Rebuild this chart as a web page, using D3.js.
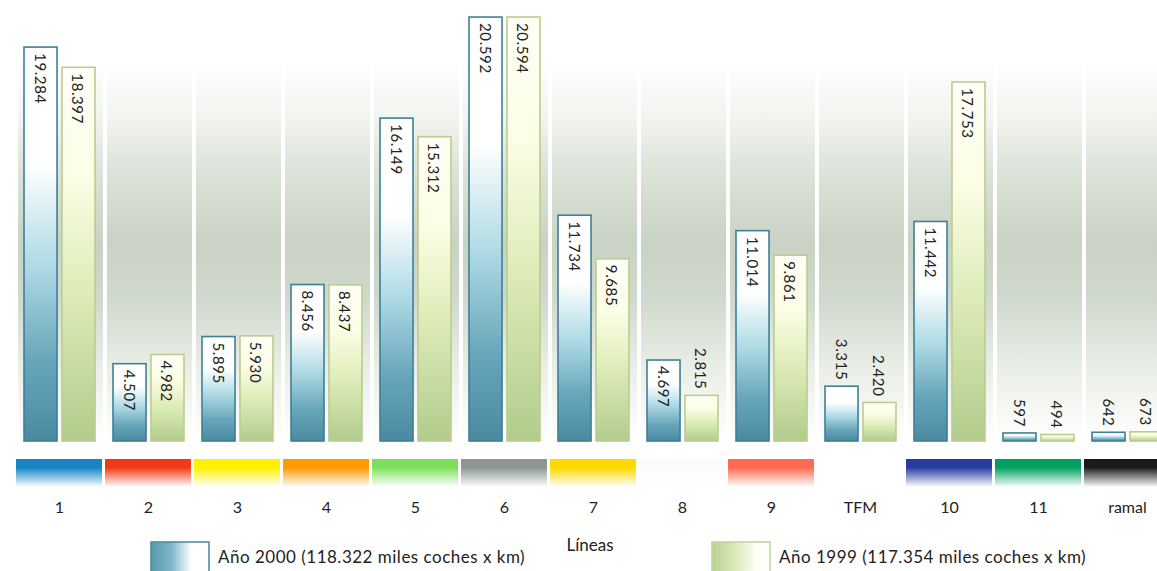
<!DOCTYPE html>
<html>
<head>
<meta charset="utf-8">
<script src="https://cdn.jsdelivr.net/npm/d3@7"></script>
<style>
  html, body { margin: 0; padding: 0; background: #ffffff; }
  svg { display: block; }
  text { font-family: Lato, "Open Sans", sans-serif; fill: #222222; }
</style>
</head>
<body>
<svg id="chart" width="1157" height="571"></svg>
<script>
// Metro lines, car-km (thousands) per line
const lines = ["1", "2", "3", "4", "5", "6", "7", "8", "9", "TFM", "10", "11", "ramal"];
const year2000 = [19284, 4507, 5895, 8456, 16149, 20592, 11734, 4697, 11014, 3315, 11442, 597, 642];
const year1999 = [18397, 4982, 5930, 8437, 15312, 20594, 9685, 2815, 9861, 2420, 17753, 494, 673];
const lineColors = ["#1784c6", "#f03a16", "#fff000", "#ff9a00", "#7ee05a", "#8d9692",
                    "#ffd800", "#fbfbfb", "#ff6b52", "#ffffff", "#263c9e", "#00a05e", "#1b1b1b"];
const seriesKeys = ["2000", "1999"];
const legendLabels = ["Año 2000 (118.322 miles coches x km)", "Año 1999 (117.354 miles coches x km)"];

const W = 1157, H = 571;
const baseY = 441;
const svg = d3.select("#chart");
const defs = svg.append("defs");

const fmt = d3.formatLocale({ decimal: ",", thousands: ".", grouping: [3], currency: ["", ""] }).format(",d");

const x0 = d3.scaleBand().domain(lines).range([15, 15 + 89 * lines.length]).paddingInner(0).paddingOuter(0);
const x1 = d3.scaleBand().domain(seriesKeys).range([9, 80]).paddingInner(0.13);
const y = d3.scalePow().exponent(1.12).domain([0, d3.max(year2000.concat(year1999))]).range([baseY, 17]);

// background haze behind each line's column
const haze = defs.append("linearGradient").attr("id", "haze")
  .attr("gradientUnits", "userSpaceOnUse").attr("x1", 0).attr("x2", 0).attr("y1", 60).attr("y2", 440);
[[0, "#ffffff"], [0.14, "#f3f5f1"], [0.3, "#dbe2d7"], [0.48, "#c9d3c5"], [0.62, "#cfd8cc"], [0.8, "#e8ede5"], [1, "#ffffff"]]
  .forEach(([o, c]) => haze.append("stop").attr("offset", o).attr("stop-color", c));

svg.append("g").selectAll("rect").data(lines).join("rect")
  .attr("x", d => x0(d) + 3)
  .attr("width", x0.bandwidth() - 4)
  .attr("y", 60).attr("height", baseY - 60)
  .attr("fill", "url(#haze)");

// bar gradients
const g2000 = defs.append("linearGradient").attr("id", "g2000").attr("x1", 0).attr("x2", 0).attr("y1", 0).attr("y2", 1);
[[0, "#ffffff"], [0.3, "#ffffff"], [0.55, "#b0dbe5"], [0.8, "#67a5ba"], [1, "#4a8aa1"]]
  .forEach(([o, c]) => g2000.append("stop").attr("offset", o).attr("stop-color", c));
const g1999 = defs.append("linearGradient").attr("id", "g1999").attr("x1", 0).attr("x2", 0).attr("y1", 0).attr("y2", 1);
[[0, "#fffff6"], [0.3, "#fbfde4"], [0.6, "#deecb8"], [1, "#b1cc8c"]]
  .forEach(([o, c]) => g1999.append("stop").attr("offset", o).attr("stop-color", c));

const seriesStyle = {
  "2000": { fill: "url(#g2000)", stroke: "#3f7f96" },
  "1999": { fill: "url(#g1999)", stroke: "#bacd8e" }
};

const rows = lines.map((l, i) => ({ line: l, vals: [{ key: "2000", v: year2000[i] }, { key: "1999", v: year1999[i] }] }));

const groups = svg.append("g").selectAll("g").data(rows).join("g")
  .attr("transform", d => `translate(${x0(d.line)},0)`);

groups.selectAll("rect").data(d => d.vals).join("rect")
  .attr("x", d => x1(d.key))
  .attr("width", x1.bandwidth())
  .attr("y", d => y(d.v))
  .attr("height", d => baseY - y(d.v))
  .attr("fill", d => seriesStyle[d.key].fill)
  .attr("stroke", d => seriesStyle[d.key].stroke)
  .attr("stroke-width", 1.6);

groups.selectAll("text").data(d => d.vals).join("text")
  .attr("transform", d => {
    const cx = x1(d.key) + x1.bandwidth() / 2;
    const inside = baseY - y(d.v) > 66;
    return `translate(${cx},${inside ? y(d.v) + 6 : y(d.v) - 6}) rotate(90)`;
  })
  .attr("text-anchor", d => (baseY - y(d.v) > 66 ? "start" : "end"))
  .attr("dominant-baseline", "central")
  .attr("font-size", 15)
  .attr("letter-spacing", 0.6)
  .text(d => fmt(d.v));

// line colour strips
const strips = svg.append("g");
lines.forEach((l, i) => {
  const g = defs.append("linearGradient").attr("id", "strip" + i).attr("x1", 0).attr("x2", 0).attr("y1", 0).attr("y2", 1);
  g.append("stop").attr("offset", 0).attr("stop-color", lineColors[i]);
  g.append("stop").attr("offset", 0.3).attr("stop-color", lineColors[i]);
  g.append("stop").attr("offset", 1).attr("stop-color", "#ffffff");
});
strips.selectAll("rect").data(lines).join("rect")
  .attr("x", d => x0(d) + 1)
  .attr("width", x0.bandwidth() - 3)
  .attr("y", 459).attr("height", 28)
  .attr("fill", (d, i) => `url(#strip${i})`);

// category labels
svg.append("g").selectAll("text").data(lines).join("text")
  .attr("x", d => x0(d) + x0.bandwidth() / 2)
  .attr("y", 513)
  .attr("text-anchor", "middle")
  .attr("font-size", 16)
  .text(d => d);

svg.append("text").attr("x", 590).attr("y", 551).attr("text-anchor", "middle")
  .attr("font-size", 17).text("Líneas");

// legend
const lg2000 = defs.append("linearGradient").attr("id", "lg2000");
[[0, "#5797ad"], [0.35, "#7fb6c7"], [0.7, "#ffffff"], [1, "#ffffff"]]
  .forEach(([o, c]) => lg2000.append("stop").attr("offset", o).attr("stop-color", c));
const lg1999 = defs.append("linearGradient").attr("id", "lg1999");
[[0, "#b7d293"], [0.35, "#d5e6b2"], [0.75, "#fdfdf3"], [1, "#ffffff"]]
  .forEach(([o, c]) => lg1999.append("stop").attr("offset", o).attr("stop-color", c));

const legendItems = [
  { key: "2000", x: 151, fill: "url(#lg2000)", stroke: "#4f8ea4", label: legendLabels[0] },
  { key: "1999", x: 712, fill: "url(#lg1999)", stroke: "#c3d69e", label: legendLabels[1] }
];
const leg = svg.append("g").selectAll("g").data(legendItems).join("g")
  .attr("transform", d => `translate(${d.x},542)`);
leg.append("rect").attr("width", 58).attr("height", 32)
  .attr("fill", d => d.fill).attr("stroke", d => d.stroke).attr("stroke-width", 1.6);
leg.append("text").attr("x", 67).attr("y", 21).attr("font-size", 17)
  .attr("letter-spacing", 0.5).text(d => d.label);
</script>
</body>
</html>
